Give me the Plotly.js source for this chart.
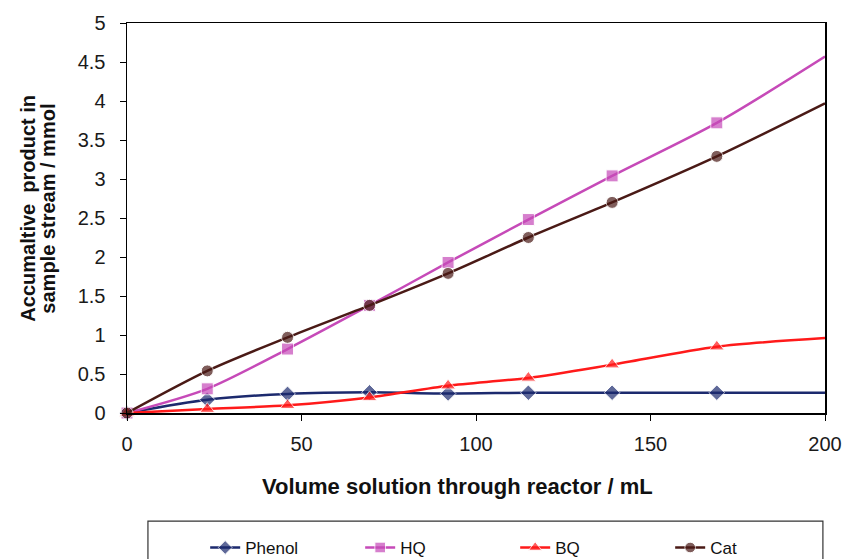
<!DOCTYPE html>
<html>
<head>
<meta charset="utf-8">
<script src="https://cdn.plot.ly/plotly-3.0.1.min.js"></script>
<style>html,body{margin:0;padding:0;background:#fff;}#chart{width:845px;height:559px;}</style>
</head>
<body>
<div id="chart"></div>
<script>
// Volume solution through reactor / mL
const volume = [0, 23, 46, 69.5, 92, 115, 139, 169, 200];
const phenol = [0, 0.17, 0.245, 0.265, 0.25, 0.26, 0.26, 0.26, 0.26];
const hq     = [0, 0.31, 0.82, 1.38, 1.93, 2.48, 3.04, 3.72, 4.57];
const bq     = [0, 0.05, 0.10, 0.20, 0.35, 0.45, 0.62, 0.85, 0.96];
const cat    = [0, 0.54, 0.97, 1.38, 1.79, 2.25, 2.70, 3.29, 3.97];
const seriesNames = ['Phenol', 'HQ', 'BQ', 'Cat'];
const xTitle = 'Volume solution through reactor / mL';
const yTitleLines = ['Accumaltive  product in', 'sample stream / mmol'];

const colors = ['#1c2a6e', '#c64ab8', '#ff1a1a', '#4a1a16'];
const symbols = ['diamond', 'square', 'triangle-up', 'circle'];
const sizes = [12, 12, 13, 12];
const allY = [phenol, hq, bq, cat];

const traces = allY.map((y, i) => ({
  x: volume,
  y: y,
  name: seriesNames[i],
  type: 'scatter',
  mode: 'lines+markers',
  line: {color: colors[i], width: 2.5, shape: 'spline', smoothing: 0.8},
  marker: {
    symbol: symbols[i],
    color: colors[i],
    size: volume.map((v, k) => k === volume.length - 1 ? 0 : sizes[i])
  },
  cliponaxis: false
}));

const fam = 'Liberation Sans, Arial, sans-serif';

const annotations = yTitleLines.map((t, i) => ({
  text: '<b>' + t + '</b>',
  xref: 'paper', yref: 'paper',
  x: 0, y: 0.524,
  xanchor: 'center', yanchor: 'middle',
  xshift: i === 0 ? -99 : -79,
  textangle: -90,
  showarrow: false,
  font: {family: fam, size: 20, color: '#111'}
}));
annotations.push({
  text: '<b>' + xTitle + '</b>',
  xref: 'paper', yref: 'paper',
  x: 0, y: 0,
  xanchor: 'center', yanchor: 'middle',
  xshift: 330, yshift: -73,
  showarrow: false,
  font: {family: fam, size: 22, color: '#111'}
});

const layout = {
  width: 845,
  height: 559,
  margin: {l: 127, r: 20, t: 23, b: 146, autoexpand: false},
  paper_bgcolor: '#ffffff',
  plot_bgcolor: '#ffffff',
  font: {family: fam, color: '#1a1a1a'},
  showlegend: true,
  xaxis: {
    range: [0, 200],
    tickvals: [0, 50, 100, 150, 200],
    ticks: 'outside', ticklen: 6, tickwidth: 1, tickcolor: '#000',
    ticklabelstandoff: 6,
    showline: true, linecolor: '#000', linewidth: 1.5, mirror: true,
    showgrid: false, zeroline: false,
    tickfont: {size: 20, color: '#1a1a1a'}
  },
  yaxis: {
    range: [0, 5],
    dtick: 0.5, tick0: 0,
    ticks: 'outside', ticklen: 6, tickwidth: 1, tickcolor: '#000',
    ticklabelstandoff: 10,
    showline: true, linecolor: '#000', linewidth: 1.5, mirror: true,
    showgrid: false, zeroline: false,
    tickfont: {size: 20, color: '#1a1a1a'}
  },
  annotations: annotations,
  shapes: [{
    type: 'rect', xref: 'paper', yref: 'paper',
    x0: 0.030, x1: 0.997, y0: -0.277, y1: -0.40,
    line: {color: '#333', width: 1.2}, fillcolor: 'rgba(0,0,0,0)'
  }],
  legend: {
    orientation: 'h',
    x: 0.112, xanchor: 'left',
    y: -0.346, yanchor: 'middle',
    borderwidth: 0,
    bgcolor: 'rgba(0,0,0,0)',
    font: {size: 17, color: '#111'},
    entrywidth: 110, entrywidthmode: 'pixels',
    itemwidth: 30
  }
};

Plotly.newPlot('chart', traces, layout, {displayModeBar: false, staticPlot: true});
</script>
</body>
</html>
